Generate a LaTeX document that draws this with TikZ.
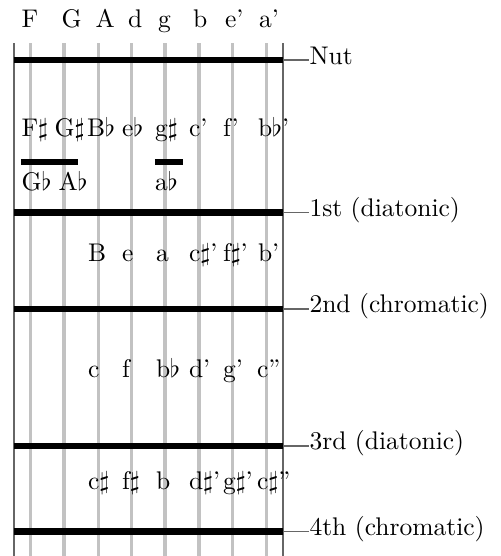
\documentclass[tikz,border=0pt]{standalone}
\begin{document}
\begin{tikzpicture}[x=0.392pt,y=-0.392pt,
  stringline/.style={line width=1.2pt,color=black!24},
  border/.style={line width=0.5pt,color=black!60},
  fretline/.style={line width=2.6pt,color=black},
  barline/.style={line width=2.5pt,color=black},
  note/.style={anchor=base west,inner sep=0pt,font=\normalsize},
  fretlab/.style={anchor=base west,inner sep=0pt,font=\normalsize},
  labline/.style={line width=0.45pt,color=black!60}]
\useasboundingbox (0,0) rectangle (500,556);
% strings
\foreach \x in {30.7,64,98.3,131.7,165,199,232.3,266.5}
  \draw[stringline] (\x,43) -- (\x,556);
% borders
\draw[border] (14,43) -- (14,556);
\draw[border] (283,43) -- (283,556);
% frets
\foreach \y/\n in {60/nut,212.5/f1,309/f2,446/f3,531.5/f4}{
  \draw[fretline] (14,\y) -- (283,\y);
  \coordinate (\n R) at (283,\y);
}
% barre marks
\draw[barline] (21,162) -- (78,162);
\draw[barline] (155,162) -- (183,162);
% open strings
\node[note] (o1) at (21,27) {F};
\node[note] (o2) at (61,27) {G};
\node[note] (o3) at (95,27) {A};
\node[note] (o4) at (127.5,27) {d};
\node[note] (o5) at (157.5,27) {g};
\node[note] (o6) at (192.5,27) {b};
\node[note] (o7) at (224.5,27) {e'};
\node[note] (o8) at (258.5,27) {a'};
% first row
\node[note] (a1) at (21,136) {F$\sharp$};
\node[note] (a2) at (54,136) {G$\sharp$};
\node[note] (a3) at (86.5,136) {B$\flat$};
\node[note] (a4) at (121.5,136) {e$\flat$};
\node[note] (a5) at (154.5,136) {g$\sharp$};
\node[note] (a6) at (188.5,136) {c'};
\node[note] (a7) at (222.5,136) {f'};
\node[note] (a8) at (257.5,136) {b$\flat$'};
\node[note] (b1) at (21,190) {G$\flat$};
\node[note] (b2) at (58,190) {A$\flat$};
\node[note] (b3) at (154.5,190) {a$\flat$};
% second row
\node[note] (c1) at (87.5,261) {B};
\node[note] (c2) at (121.5,261) {e};
\node[note] (c3) at (155.5,261) {a};
\node[note] (c4) at (188.5,261) {c$\sharp$'};
\node[note] (c5) at (222.5,261) {f$\sharp$'};
\node[note] (c6) at (257.5,261) {b'};
% third row
\node[note] (d1) at (87.5,377) {c};
\node[note] (d2) at (121.5,377) {f};
\node[note] (d3) at (155.5,377) {b$\flat$};
\node[note] (d4) at (188.5,377) {d'};
\node[note] (d5) at (222.5,377) {g'};
\node[note] (d6) at (256.5,377) {c''};
% fourth row
\node[note] (e1) at (87.5,489) {c$\sharp$};
\node[note] (e2) at (121.5,489) {f$\sharp$};
\node[note] (e3) at (155.5,489) {b};
\node[note] (e4) at (188.5,489) {d$\sharp$'};
\node[note] (e5) at (222.5,489) {g$\sharp$'};
\node[note] (e6) at (256.5,489) {c$\sharp$''};
% fret labels
\node[fretlab] (lnut) at (309,64) {Nut};
\node[fretlab] (lf1) at (309,216) {1st (diatonic)};
\node[fretlab] (lf2) at (309,312.5) {2nd (chromatic)};
\node[fretlab] (lf3) at (309,449.5) {3rd (diatonic)};
\node[fretlab] (lf4) at (309,535) {4th (chromatic)};
\foreach \n/\l in {nut/lnut,f1/lf1,f2/lf2,f3/lf3,f4/lf4}
  \draw[labline] (\n R) -- (\n R -| \l.west);
\end{tikzpicture}
\end{document}
